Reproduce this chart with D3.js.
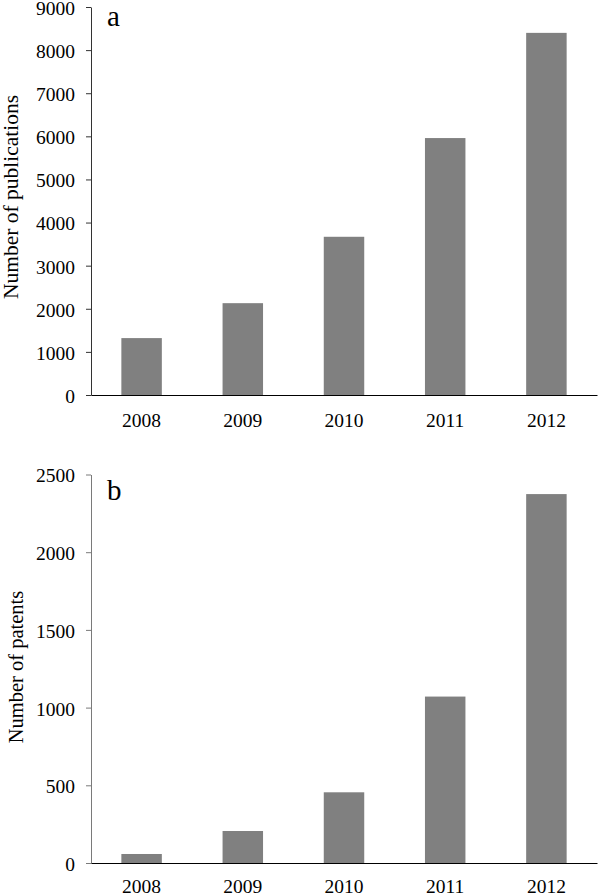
<!DOCTYPE html>
<html lang="en">
<head>
    <meta charset="UTF-8">
    <title>Publications and patents</title>
    <script type="text/javascript" src="https://cdn.jsdelivr.net/npm/d3@7"></script>
    <style>
        body { margin: 0; background: #fff; }
        text { font-family: "Liberation Serif", "Times New Roman", serif; fill: #000; }
    </style>
</head>
<body>
<script>
    var years = ["2008", "2009", "2010", "2011", "2012"];
    var publications = [1320, 2130, 3670, 5960, 8400];
    var patents = [58, 206, 455, 1071, 2374];
    var pubTicks = [0, 1000, 2000, 3000, 4000, 5000, 6000, 7000, 8000, 9000];
    var patentTicks = [0, 500, 1000, 1500, 2000, 2500];

    var w = 600;
    var h = 895;
    var svg = d3.select("body")
        .append("svg")
        .attr("width", w)
        .attr("height", h);

    function drawPanel(opt) {
        var x = d3.scaleBand()
            .domain(years)
            .range([91, 597])
            .paddingInner(0.6)
            .paddingOuter(0.3);
        var y = d3.scaleLinear()
            .domain([0, opt.ticks[opt.ticks.length - 1]])
            .range([opt.bottom, opt.top]);

        svg.append("g")
            .selectAll("rect")
            .data(opt.values)
            .enter()
            .append("rect")
            .attr("x", function (d, i) { return x(years[i]); })
            .attr("y", function (d) { return y(d); })
            .attr("width", x.bandwidth())
            .attr("height", function (d) { return opt.bottom - y(d); })
            .attr("fill", "#808080");

        // y axis
        var gy = svg.append("g")
            .attr("transform", "translate(91,0)")
            .call(d3.axisLeft(y).tickValues(opt.ticks).tickFormat(d3.format("d"))
                .tickSize(5).tickSizeOuter(0).tickPadding(11));
        gy.selectAll("path, line").attr("stroke", opt.yColor);
        gy.selectAll("text")
            .style("font-family", "'Liberation Serif', serif")
            .style("font-size", "19.5px")
            .attr("dy", "0.38em")
            .attr("fill", "#000");

        // x axis (no ticks)
        var gx = svg.append("g")
            .attr("transform", "translate(0," + opt.bottom + ")")
            .call(d3.axisBottom(x).tickSize(0).tickPadding(opt.xPad));
        gx.select(".domain").attr("stroke", "#000");
        gx.selectAll("text")
            .style("font-family", "'Liberation Serif', serif")
            .style("font-size", "19.5px")
            .attr("fill", "#000");

        svg.append("text")
            .attr("x", 107)
            .attr("y", opt.top + opt.letterDy)
            .attr("font-size", "29px")
            .text(opt.letter);

        svg.append("text")
            .attr("transform", "translate(" + opt.titleX + "," + opt.titleY + ") rotate(-90)")
            .attr("text-anchor", "middle")
            .attr("font-size", opt.titleSize)
            .text(opt.title);
    }

    drawPanel({
        values: publications, ticks: pubTicks, top: 7, bottom: 395, xPad: 18,
        yColor: "#333", letter: "a", letterDy: 19,
        title: "Number of publications", titleX: 18, titleY: 197, titleSize: "21.5px"
    });
    drawPanel({
        values: patents, ticks: patentTicks, top: 474.5, bottom: 863, xPad: 16,
        yColor: "#7a7a7a", letter: "b", letterDy: 25,
        title: "Number of patents", titleX: 23, titleY: 667, titleSize: "20.5px"
    });
</script>
</body>
</html>
